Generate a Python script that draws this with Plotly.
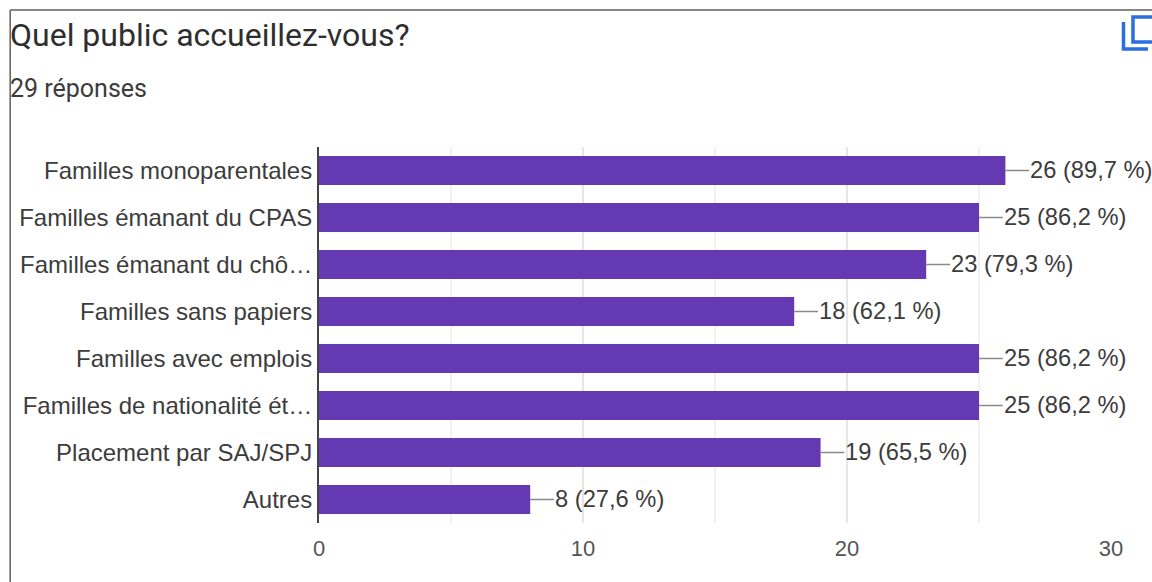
"""Quel public accueillez-vous? - horizontal bar chart"""
import plotly.graph_objects as go

categories = [
    "Familles monoparentales",
    "Familles émanant du CPAS",
    "Familles émanant du chô…",
    "Familles sans papiers",
    "Familles avec emplois",
    "Familles de nationalité ét…",
    "Placement par SAJ/SPJ",
    "Autres",
]
counts = [26, 25, 23, 18, 25, 25, 19, 8]
shares = ["89,7", "86,2", "79,3", "62,1", "86,2", "86,2", "65,5", "27,6"]
x_ticks = [0, 10, 20, 30]

WIDTH, HEIGHT = 1152, 582
LEFT, RIGHT, TOP, BOTTOM = 318.5, 1111, 147, 523
LEADER = 0.9


def _px(x):
    return (x - LEFT) / (RIGHT - LEFT)


def _py(y):
    return (BOTTOM - y) / (BOTTOM - TOP)


fig = go.Figure()
fig.add_trace(
    go.Bar(
        x=counts,
        y=categories,
        orientation="h",
        width=0.62,
        marker=dict(color="#6539b1", line=dict(width=0)),
        error_x=dict(
            type="constant", value=LEADER, symmetric=False, valueminus=0,
            color="#8a8a8a", thickness=1.5, width=0,
        ),
    )
)

# frame and copy icon of the form page
line = dict(color="#5f5f5f", width=1.5)
blue = dict(color="#2a6fe0", width=3.5)
shapes = [
    dict(type="line", x0=_px(9.5), x1=_px(9.5), y0=_py(10), y1=_py(582), line=line),
    dict(type="line", x0=_px(9.5), x1=_px(1152), y0=_py(10), y1=_py(10), line=line),
    dict(type="path", path=f"M {_px(1123.5)} {_py(22)} L {_px(1123.5)} {_py(49)} L {_px(1148)} {_py(49)}", line=blue),
    dict(type="path", path=f"M {_px(1154)} {_py(17)} L {_px(1133)} {_py(17)} L {_px(1133)} {_py(42)} L {_px(1154)} {_py(42)}", line=blue),
]
for s in shapes:
    s.update(xref="paper", yref="paper", layer="above")

# value labels at the end of each leader
value_labels = [
    dict(
        text=f"{c} ({s} %)",
        x=c + LEADER, y=cat,
        xref="x", yref="y",
        xanchor="left", yanchor="middle", showarrow=False,
        yshift=1, xshift=-1,
        font=dict(family="Liberation Sans", size=23.7, color="#3c3c3c"),
    )
    for cat, c, s in zip(categories, counts, shares)
]

fig.update_layout(
    width=WIDTH,
    height=HEIGHT,
    margin=dict(l=LEFT, r=WIDTH - RIGHT, t=TOP, b=HEIGHT - BOTTOM, pad=0),
    paper_bgcolor="white",
    plot_bgcolor="white",
    showlegend=False,
    shapes=shapes,
    font=dict(family="Liberation Sans", size=23.5, color="#3c3c3c"),
    xaxis=dict(
        range=[0, 30],
        tickvals=x_ticks,
        showgrid=True,
        gridcolor="#e6e6e6",
        gridwidth=1.5,
        zeroline=False,
        showline=False,
        ticks="",
        ticklabelstandoff=10,
        tickfont=dict(size=22, color="#555555"),
        minor=dict(dtick=5, showgrid=True, gridcolor="#f1f1f1", gridwidth=1.5),
    ),
    yaxis=dict(
        autorange="reversed",
        categoryorder="array",
        categoryarray=categories,
        showgrid=False,
        zeroline=False,
        showline=True,
        linecolor="#444444",
        linewidth=2,
        ticks="",
        ticklabelstandoff=0,
        tickfont=dict(size=24, color="#3c3c3c"),
    ),
    annotations=value_labels + [
        dict(
            text="Quel public accueillez-vous?",
            xref="paper", yref="paper", x=_px(7.5), y=_py(35),
            xanchor="left", yanchor="middle", showarrow=False,
            font=dict(family="Roboto", size=32, color="#2e2e2e"),
        ),
        dict(
            text="29 réponses",
            xref="paper", yref="paper", x=_px(7.5), y=_py(88),
            xanchor="left", yanchor="middle", showarrow=False,
            font=dict(family="Roboto", size=25, color="#3c3c3c"),
        ),
    ],
)

fig.write_html(
    "out.html",
    config={"displayModeBar": False},
    post_script="document.body.style.margin = '0';",
)
